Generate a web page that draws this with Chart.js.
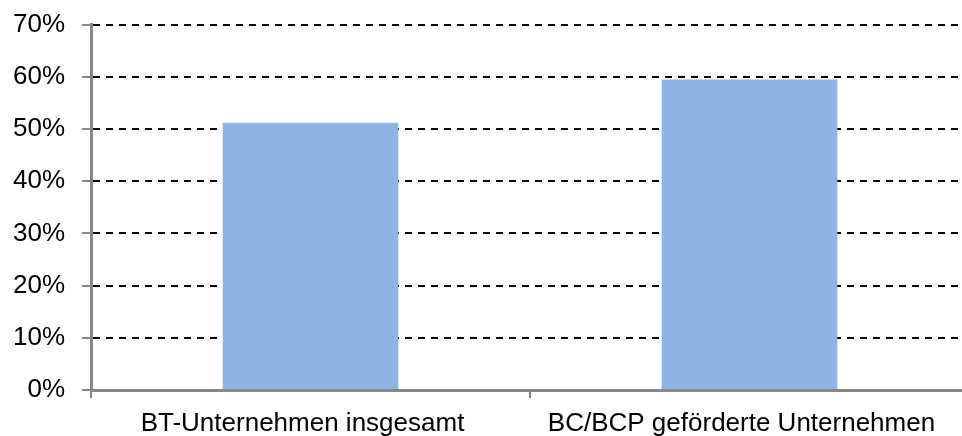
<!DOCTYPE html>
<html>
<head>
<meta charset="utf-8">
<script src="https://cdn.jsdelivr.net/npm/chart.js@4"></script>
<style>
html,body{margin:0;padding:0;overflow:hidden;background:#fff;}
#wrap{width:975px;height:444px;margin-top:-8px;}
</style>
</head>
<body>
<div id="wrap"><canvas id="c" width="975" height="444"></canvas></div>
<script>
const categories = ["BT-Unternehmen insgesamt", "BC/BCP geförderte Unternehmen"];
const values = [51.2, 59.5];
const yTicks = [0, 10, 20, 30, 40, 50, 60, 70];

const axisGray = '#868686';
new Chart(document.getElementById('c'), {
  type: 'bar',
  data: {
    labels: categories,
    datasets: [{
      data: values,
      backgroundColor: '#8EB4E3',
      barPercentage: 0.4,
      categoryPercentage: 1.0
    }]
  },
  options: {
    responsive: false,
    animation: false,
    devicePixelRatio: 1,
    layout: { padding: { top: 8, right: 6, left: 0, bottom: 0 } },
    plugins: { legend: { display: false }, tooltip: { enabled: false } },
    scales: {
      x: {
        grid: { drawOnChartArea: false, color: axisGray, tickLength: 8, lineWidth: 2, offset: true },
        border: { color: axisGray, width: 3 },
        ticks: { color: '#000', font: { family: 'Liberation Sans', size: 26 }, padding: 10, maxRotation: 0, labelOffset: -8 },
        afterFit: s => { s.height = 46; }
      },
      y: {
        min: 0, max: 70,
        afterBuildTicks: s => { s.ticks = yTicks.map(v => ({ value: v })); },
        grid: {
          color: ctx => (ctx.tick && ctx.tick.value === 0) ? 'rgba(0,0,0,0)' : '#000',
          lineWidth: 2,
          tickColor: axisGray,
          tickLength: 9,
          tickWidth: 2
        },
        border: { color: axisGray, width: 3, dash: [7, 6] },
        ticks: {
          color: '#000', font: { family: 'Liberation Sans', size: 26 }, padding: 17,
          callback: v => v + '%'
        },
        afterFit: s => { s.width = 91; }
      }
    }
  }
});
</script>
</body>
</html>
